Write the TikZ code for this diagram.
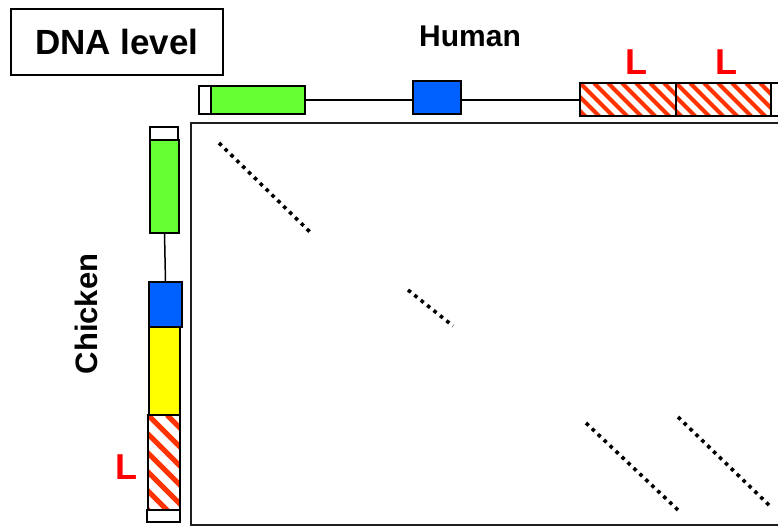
\documentclass[tikz,border=0pt]{standalone}
\usepackage{fontspec}
\setmainfont{Liberation Sans}
\usetikzlibrary{calc}
\definecolor{genegreen}{RGB}{102,255,51}
\definecolor{geneblue}{RGB}{0,96,255}
\definecolor{geneyellow}{RGB}{255,255,0}
\definecolor{stripered}{RGB}{255,51,0}
\definecolor{framegray}{RGB}{30,30,30}

% stripes clipped to a node, then its border redrawn
% #1 node name, #2 horizontal period, #3 stripe width
\newcommand\hatchfill[3]{%
  \begin{scope}
    \clip (#1.south west) rectangle (#1.north east);
    \foreach \k in {-8,...,12}
      \draw[stripered, line width=#3] ($(#1.north west)+(\k*#2,0)$) -- ++(130,130);
  \end{scope}
  \draw[line width=1.5pt] (#1.south west) rectangle (#1.north east);}

\begin{document}
\begin{tikzpicture}[x=1pt,y=-1pt,
  gene/.style={draw=black, line width=1.5pt, rectangle, inner sep=0pt, outer sep=0pt},
  link/.style={draw=black, line width=1.5pt},
  frame/.style={draw=framegray, line width=2.2pt},
  dotline/.style={line width=3.6pt, line cap=butt, dash pattern=on 3.6pt off 4.6pt},
  title/.style={font=\bfseries\fontsize{30}{33}\selectfont},
  lmark/.style={text=red, font=\bfseries\fontsize{36}{40}\selectfont, inner sep=0pt}]

\useasboundingbox (0,0) rectangle (778,526);
\clip (0,0) rectangle (778,526);

% labels
\node[draw=black, line width=2pt, minimum width=212pt, minimum height=66pt,
      font=\bfseries\fontsize{35}{39}\selectfont] (dna) at (117,42) {DNA level};
\node[title] (human) at (470,36) {Human};
\node[title, font=\bfseries\fontsize{31}{34}\selectfont, rotate=90] (chicken) at (86,314) {Chicken};

% dot plot frame
\draw[frame] (191,123) rectangle (800,525);

% human gene, along the top
\node[gene, fill=white, minimum width=12pt, minimum height=28pt] (h0) at (205,100) {};
\node[gene, fill=genegreen, minimum width=94pt, minimum height=28pt] (h1) at (258,100) {};
\node[gene, fill=geneblue, minimum width=48pt, minimum height=33pt] (h2) at (437,97.5) {};
\node[gene, fill=white, minimum width=96pt, minimum height=33pt] (h3) at (628,99.5) {};
\node[gene, fill=white, minimum width=95pt, minimum height=33pt] (h4) at (723.5,99.5) {};
\node[gene, fill=white, minimum width=19pt, minimum height=33pt] (h5) at (780.5,99.5) {};
\hatchfill{h3}{14}{4pt}
\hatchfill{h4}{14}{4pt}
\draw[link] (h1.east) -- (h1.east -| h2.west);
\draw[link] (h2.east |- h1.east) -- (h3.west |- h1.east);
\node[lmark] (l1) at (636,62) {L};
\node[lmark] (l2) at (726,62) {L};

% chicken gene, down the left side
\node[gene, fill=white, minimum width=28pt, minimum height=13pt] (c0) at (164,133.5) {};
\node[gene, fill=genegreen, minimum width=29pt, minimum height=93pt] (c1) at (164.5,186.5) {};
\node[gene, fill=geneblue, minimum width=33pt, minimum height=45pt] (c2) at (165.5,304.5) {};
\node[gene, fill=geneyellow, minimum width=31pt, minimum height=88pt] (c3) at (164.5,371) {};
\node[gene, fill=white, minimum width=32pt, minimum height=95pt] (c4) at (164,462.5) {};
\node[gene, fill=white, minimum width=33pt, minimum height=12pt] (c5) at (163.5,516) {};
\hatchfill{c4}{19}{5pt}
\draw[link] (c1.south) -- (c2.north);
\node[lmark] (l3) at (126,467) {L};

% similarity dots
\coordinate (d1a) at (219,143); \coordinate (d1b) at (311,233);
\coordinate (d2a) at (408,290); \coordinate (d2b) at (453,326);
\coordinate (d3a) at (586,423); \coordinate (d3b) at (678,510);
\coordinate (d4a) at (678,417); \coordinate (d4b) at (771,507);
\draw[dotline] (d1a) -- (d1b);
\draw[dotline] (d2a) -- (d2b);
\draw[dotline] (d3a) -- (d3b);
\draw[dotline] (d4a) -- (d4b);
\end{tikzpicture}
\end{document}
